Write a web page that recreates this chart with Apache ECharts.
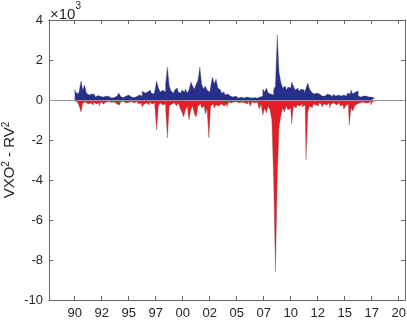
<!DOCTYPE html>
<html>
<head>
<meta charset="utf-8">
<script src="https://cdn.jsdelivr.net/npm/echarts@6/dist/echarts.min.js"></script>
<style>
  html, body { margin: 0; padding: 0; background: #fff; }
  #chart { width: 407px; height: 321px; }
</style>
</head>
<body>
<div id="chart"></div>
<script>
// two-month bins starting in 1990
const startYear = 1990
const binStep = 1 / 6

// upper envelope (VXO^2 - RV^2 > 0)
const posValues = [
  550, 400, 300, 450, 950, 500, 750, 350, 250, 300,
  200, 280, 150, 220, 180, 250, 150, 200, 120, 180,
  100, 150, 120, 200, 300, 350, 180, 120, 200, 150,
  250, 150, 200, 120, 180, 150, 250, 200, 450, 350,
  400, 300, 500, 350, 300, 450, 950, 600, 400, 500,
  400, 800, 1650, 700, 450, 350, 500, 600, 400, 350,
  500, 400, 550, 350, 500, 900, 700, 550, 800, 1000,
  1650, 800, 550, 700, 500, 400, 650, 1150, 800, 1050,
  600, 500, 350, 400, 250, 300, 200, 250, 150, 200,
  150, 100, 150, 120, 100, 150, 100, 130, 100, 150,
  120, 100, 180, 150, 200, 550, 400, 600, 350, 300,
  250, 500, 700, 3250, 1400, 900, 600, 700, 500, 650,
  600, 900, 700, 500, 600, 450, 550, 500, 350, 600,
  850, 550, 400, 300, 350, 250, 300, 200, 250, 200,
  300, 200, 250, 180, 300, 200, 250, 150, 200, 250,
  300, 200, 350, 300, 500, 300, 400, 450, 200, 150,
  200, 150, 200, 150, 100, 150, 100, 80
]

// lower envelope (VXO^2 - RV^2 < 0)
const negValues = [
  -50, -100, -150, -300, -600, -150, -100, -200, -100, -150,
  -250, -100, -200, -150, -300, -100, -200, -100, -150, -80,
  -120, -80, -100, -200, -150, -250, -100, -80, -150, -100,
  -120, -80, -100, -150, -80, -100, -200, -150, -350, -200,
  -150, -250, -100, -200, -150, -300, -1500, -300, -150, -250,
  -200, -400, -1900, -300, -200, -150, -250, -300, -150, -400,
  -600, -850, -500, -300, -1000, -500, -300, -700, -850, -300,
  -200, -400, -300, -700, -400, -1900, -300, -200, -400, -250,
  -300, -200, -150, -300, -200, -350, -100, -150, -100, -200,
  -100, -150, -80, -100, -150, -100, -200, -80, -300, -100,
  -150, -100, -200, -450, -200, -750, -400, -650, -300, -500,
  -1000, -3900, -8600, -4000, -1350, -800, -400, -600, -300, -500,
  -400, -1200, -300, -400, -250, -300, -200, -350, -250, -3000,
  -600, -300, -400, -200, -250, -300, -150, -200, -350, -200,
  -250, -150, -400, -200, -150, -250, -200, -150, -300, -250,
  -450, -300, -200, -1250, -400, -550, -300, -200, -150, -200,
  -100, -150, -100, -150, -80, -250, -80, -50
]

const xTicks = [1990, 1992.5, 1995, 1997.5, 2000, 2002.5, 2005, 2007.5, 2010, 2012.5, 2015, 2017.5, 2020]

const fontFamily = '"Liberation Sans", Arial, sans-serif'
const axisColor = '#666'
const textColor = '#262626'

function toPairs(values) {
  return values.map((v, i) => [startYear + i * binStep, v])
}

function yearLabel(v) {
  const yy = Math.floor(v + 1e-6) % 100
  return (yy < 10 ? '0' : '') + yy
}

const chart = echarts.init(document.getElementById('chart'))

const xCommon = {
  type: 'value',
  min: 1987.62,
  max: 2020.58,
  splitLine: { show: false },
  axisLine: { show: true, onZero: false, lineStyle: { color: axisColor, width: 1 } },
  axisTick: { show: true, inside: true, length: 4, customValues: xTicks, lineStyle: { color: axisColor } }
}
const yCommon = {
  type: 'value',
  min: -10000,
  max: 4000,
  interval: 2000,
  splitLine: { show: false },
  axisLine: { show: true, lineStyle: { color: axisColor, width: 1 } },
  axisTick: { show: true, inside: true, length: 4, lineStyle: { color: axisColor } }
}

chart.setOption({
  animation: false,
  backgroundColor: '#fff',
  grid: { left: 49, right: 2, top: 20, bottom: 21, containLabel: false, outerBoundsMode: 'none' },
  xAxis: [
    Object.assign({}, xCommon, {
      position: 'bottom',
      axisLabel: {
        show: true,
        customValues: xTicks,
        formatter: yearLabel,
        color: textColor,
        fontSize: 13,
        fontFamily: fontFamily,
        margin: 7
      }
    }),
    Object.assign({}, xCommon, {
      position: 'top',
      axisLabel: { show: false }
    })
  ],
  yAxis: [
    Object.assign({}, yCommon, {
      position: 'left',
      axisLabel: {
        color: textColor,
        fontSize: 13,
        fontFamily: fontFamily,
        margin: 6,
        formatter: v => String(v / 1000)
      },
      name: '{m|VXO}{s|2}{m| - RV}{s|2}',
      nameLocation: 'middle',
      nameGap: 30,
      nameRotate: 90,
      nameMoveOverlap: false,
      nameTextStyle: {
        rich: {
          m: { fontSize: 15, fontFamily: fontFamily, color: textColor },
          s: { fontSize: 10, fontFamily: fontFamily, color: textColor, verticalAlign: 'top', padding: [0, 0, 8, 0] }
        }
      }
    }),
    Object.assign({}, yCommon, {
      position: 'right',
      axisLabel: { show: false }
    })
  ],
  graphic: [
    {
      type: 'text',
      left: 50,
      top: 1,
      style: {
        text: '{m|×10}{s|3}',
        rich: {
          m: { fontSize: 15, fontFamily: fontFamily, fill: textColor, padding: [6, 0, 0, 0] },
          s: { fontSize: 10, fontFamily: fontFamily, fill: textColor, verticalAlign: 'top' }
        }
      }
    }
  ],
  series: [
    {
      name: 'positive',
      type: 'line',
      step: 'middle',
      data: toPairs(posValues),
      showSymbol: false,
      symbol: 'none',
      sampling: 'none',
      lineStyle: { color: '#4a4a66', width: 0.5, opacity: 0.7 },
      areaStyle: { color: '#262f8c', opacity: 1, origin: 'auto' },
      markLine: {
        silent: true,
        symbol: 'none',
        label: { show: false },
        lineStyle: { color: '#9a9a9a', width: 1, type: 'solid' },
        data: [{ yAxis: 0 }]
      },
      z: 3
    },
    {
      name: 'negative',
      type: 'line',
      step: 'middle',
      data: toPairs(negValues),
      showSymbol: false,
      symbol: 'none',
      sampling: 'none',
      lineStyle: { color: '#7a4a4a', width: 0.5, opacity: 0.7 },
      areaStyle: { color: '#e41e26', opacity: 1, origin: 'auto' },
      z: 3
    }
  ]
})
</script>
</body>
</html>
